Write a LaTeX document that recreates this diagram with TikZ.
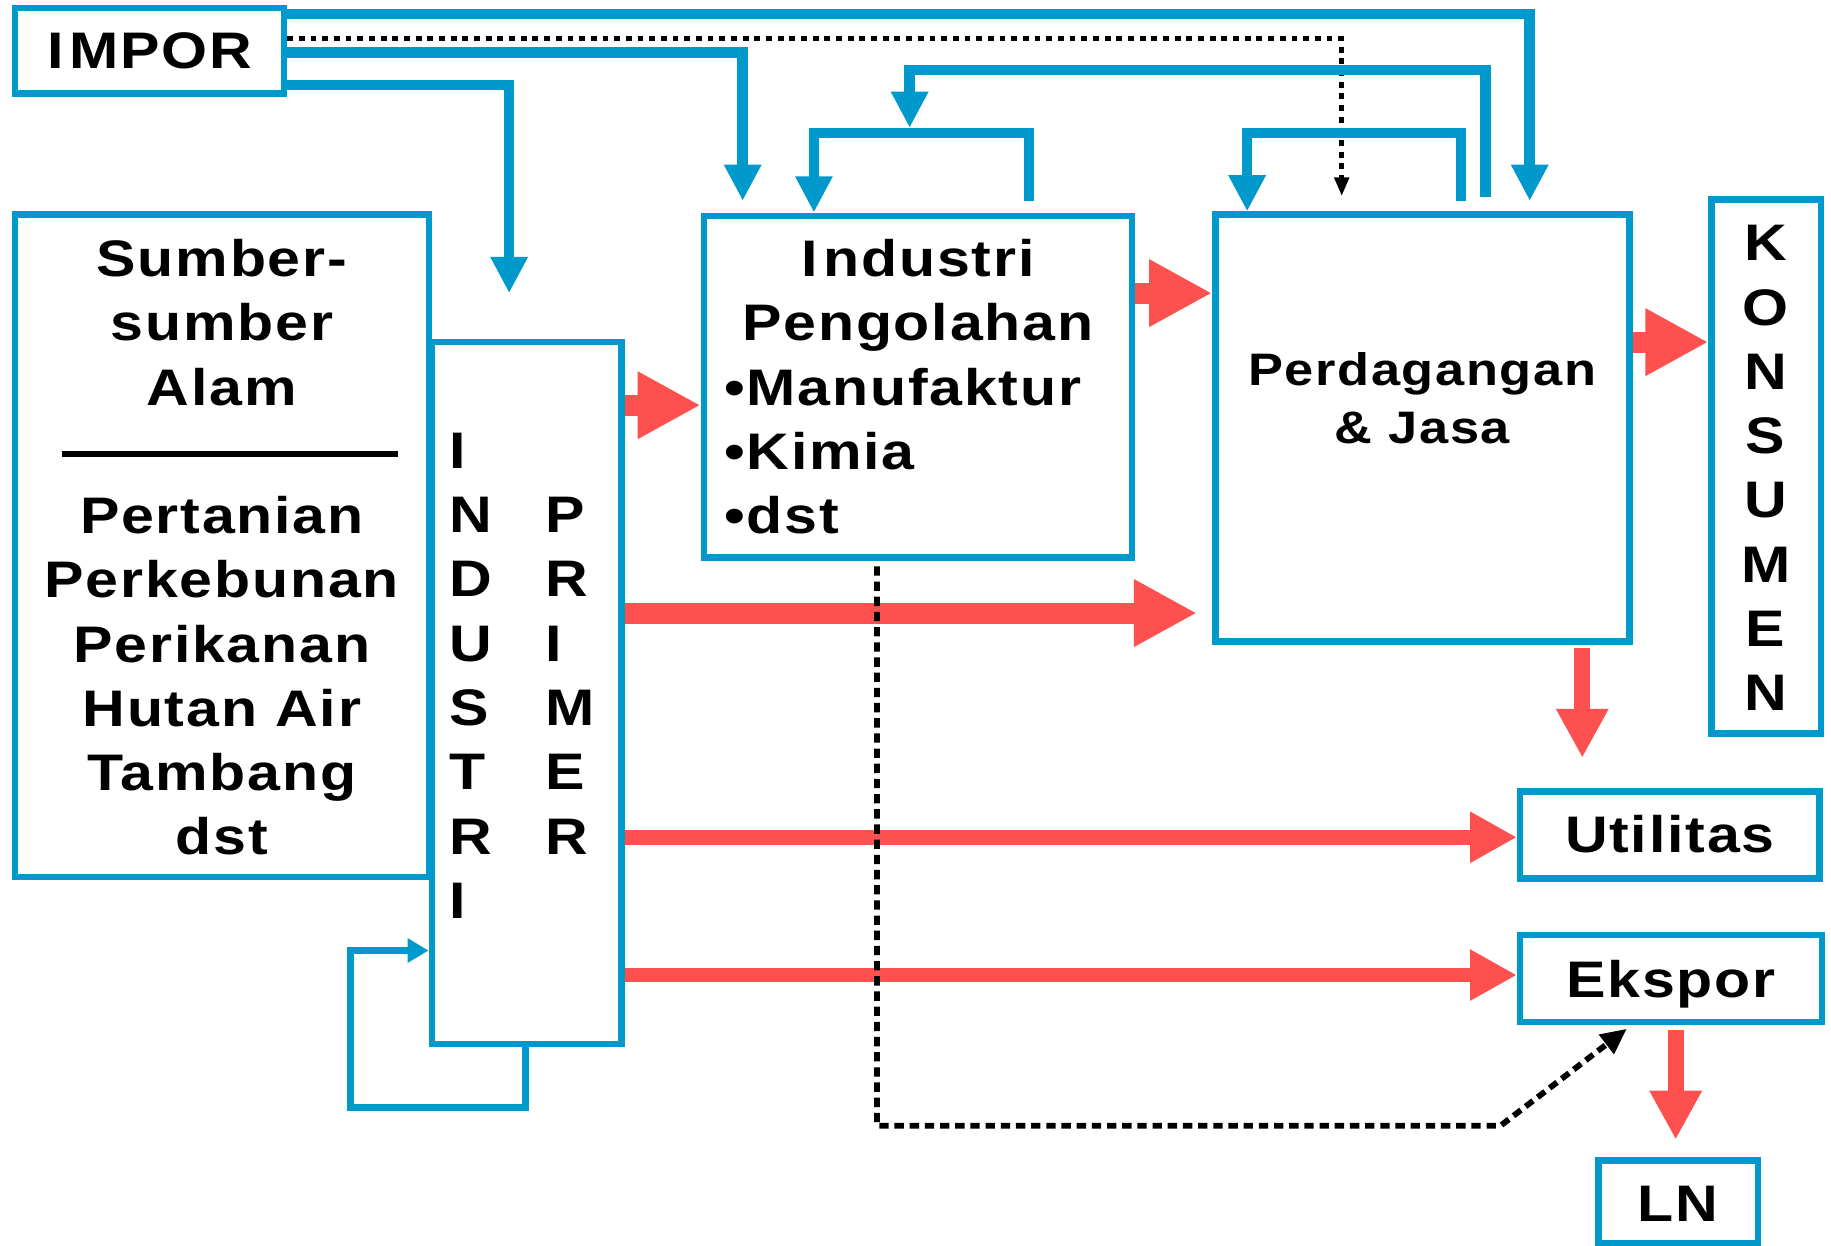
\documentclass[tikz,border=0pt]{standalone}
\usepackage{fontspec}
\setmainfont{Liberation Sans}[LetterSpace=3.5,FakeStretch=1.15]
\usetikzlibrary{arrows.meta,fit}
\definecolor{cblue}{RGB}{0,153,204}
\definecolor{cred}{RGB}{255,80,80}
\begin{document}
\begin{tikzpicture}[x=1pt,y=-1pt,
  box/.style={draw=cblue, line width=5.5pt, inner sep=0pt},
  txt/.style={inner sep=0pt, font=\bfseries\fontsize{44}{55}\selectfont, anchor=base},
  txts/.style={inner sep=0pt, font=\bfseries\fontsize{39}{50}\selectfont, anchor=base},
  bluearr/.style={draw=cblue, line width=9pt, -{Triangle[length=31pt,width=30pt]}},
  bluethin/.style={draw=cblue, line width=6pt, -{Triangle[length=18pt,width=20pt]}},
  redbig/.style={draw=cred, line width=18pt, -{Triangle[length=54pt,width=54pt]}},
  redmid/.style={draw=cred, line width=13.5pt, -{Triangle[length=42pt,width=42pt]}},
  redthin/.style={draw=cred, line width=12.5pt, -{Triangle[length=40pt,width=41pt]}},
  dottop/.style={draw=black, line width=4.5pt, dash pattern=on 5pt off 5pt, -{Triangle[length=16pt,width=12pt]}},
  dotlow/.style={draw=black, line width=5pt, dash pattern=on 8pt off 5pt, -{Triangle[length=22pt,width=20pt]}}
]
\fill[white] (0,0) rectangle (1568,1067);
\useasboundingbox (0,0) rectangle (1568,1067);

% boxes
\node[box, fit={(12.75,6.75) (243.25,80.25)}] (impor) {};
\node[box, fit={(12.75,183.75) (367.25,751.25)}] (sumber) {};
\node[box, fit={(369.75,292.75) (532.25,894.25)}] (prim) {};
\node[box, fit={(602.75,184.75) (969.25,477.25)}] (peng) {};
\node[box, fit={(1040.75,183.75) (1395.25,549.25)}] (perd) {};
\node[box, fit={(1465.75,170.75) (1559.25,628.25)}] (kons) {};
\node[box, fit={(1301.75,677.75) (1558.25,752.25)}] (util) {};
\node[box, fit={(1301.75,800.75) (1560.25,875.25)}] (eksp) {};
\node[box, fit={(1368.75,993.75) (1505.25,1064.25)}] (ln) {};

% texts
\node[txt] (timpor) at (128,59) {I\kern5pt MPOR};
\foreach \t [count=\i] in {Sumber-,sumber,Alam}
  \node[txt] (sa\i) at (190,{237+55*(\i-1)}) {\t};
\draw[line width=5.5pt] (53,389) -- (341,389);
\foreach \t [count=\i] in {Pertanian,Perkebunan,Perikanan,Hutan Air,Tambang,dst}
  \node[txt] (sb\i) at (190,{457+55*(\i-1)}) {\t};
\foreach \t [count=\i] in {I,N,D,U,S,T,R,I}
  \node[txt, anchor=base west] (pl\i) at (385,{401+55.1*(\i-1)}) {\t};
\foreach \t [count=\i] in {P,R,I,M,E,R}
  \node[txt, anchor=base west] (pr\i) at (467,{456+55.1*(\i-1)}) {\t};
\node[txt] (tp1) at (786,237) {I\kern5pt ndustri};
\node[txt] (tp2) at (786,292) {Pengolahan};
\node[txt, anchor=base west] (tp3) at (620,347) {•Manufaktur};
\node[txt, anchor=base west] (tp4) at (620,402) {•Kimia};
\node[txt, anchor=base west] (tp5) at (620,457) {•dst};
\node[txts] (td1) at (1218,330) {Perdagangan};
\node[txts] (td2) at (1218,380) {\& Jasa};
\foreach \t [count=\i] in {K,O,N,S,U,M,E,N}
  \node[txt] (tk\i) at (1512,{223.5+55*(\i-1)}) {\t};
\node[txt] (tutil) at (1430,730) {Utilitas};
\node[txt] (teksp) at (1431,854) {Ekspor};
\node[txt] (tln) at (1437,1046) {LN};

% blue connectors
\draw[bluearr, shorten >=9pt] (impor.east |- 0,12) -- (1310,12) -- (perd.north -| 1310,0);
\draw[bluearr, shorten >=10pt] (impor.east |- 0,45) -- (636,45) -- (peng.north -| 636,0);
\draw[bluearr, shorten >=39pt] (impor.east |- 0,73) -- (436,73) -- (prim.north -| 436,0);
\draw[dottop, shorten >=13pt] (impor.east |- 0,33) -- (1149,33) -- (perd.north -| 1149,0);
\coordinate (pfb) at (779,114);
\draw[bluearr, shorten <=12pt, shorten >=4.5pt] (perd.north -| 1272,0) -- (1272,60) -- (779,60) -- (pfb);
\draw[bluearr, shorten <=10pt] (peng.north -| 881,0) -- (881,114) -- (697,114) -- (peng.north -| 697,0);
\draw[bluearr, shorten <=9pt] (perd.north -| 1251,0) -- (1251,114) -- (1068,114) -- (perd.north -| 1068,0);
\draw[bluethin] (prim.south -| 450,0) -- (450,948) -- (300,948) -- (300,814) -- (prim.west |- 0,814);

% red connectors
\draw[redbig] (prim.east |- 0,347) -- (peng.west |- 0,347);
\draw[redbig] (peng.east |- 0,251) -- (perd.west |- 0,251);
\draw[redbig, shorten >=13pt] (prim.east |- 0,525) -- (perd.west |- 0,525);
\draw[redbig] (perd.east |- 0,293) -- (kons.west |- 0,293);
\draw[redmid, shorten <=3pt, shorten >=26pt] (perd.south -| 1355,0) -- (util.north -| 1355,0);
\draw[redthin] (prim.east |- 0,717) -- (util.west |- 0,717);
\draw[redthin] (prim.east |- 0,835) -- (eksp.west |- 0,835);
\draw[redmid, shorten <=4pt, shorten >=15pt] (eksp.south -| 1435,0) -- (ln.north -| 1435,0);

% dotted from Industri Pengolahan to Ekspor
\draw[dotlow, shorten <=5pt, shorten >=5pt] (peng.south -| 751,0) -- (751,964) -- (1285,964) -- (eksp.south -| 1397,0);
\end{tikzpicture}
\end{document}
